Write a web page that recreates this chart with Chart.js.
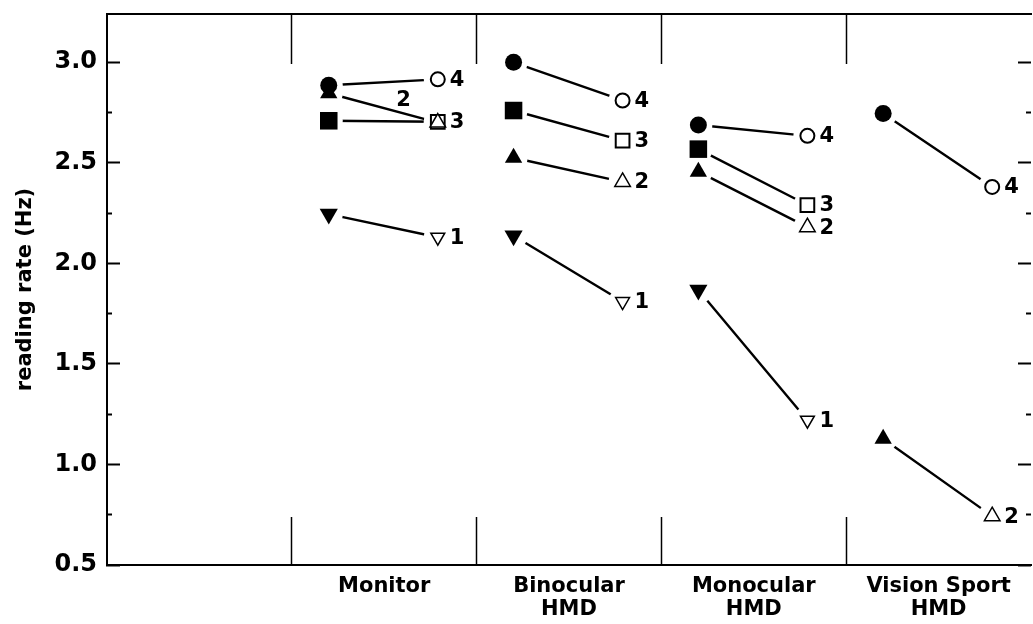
<!DOCTYPE html>
<html>
<head>
<meta charset="utf-8">
<script src="https://cdn.jsdelivr.net/npm/chart.js@4.4.0/dist/chart.umd.min.js"></script>
<style>
  html, body { margin: 0; padding: 0; background: #fff; overflow: hidden; }
  #wrap { width: 1033px; height: 624px; overflow: hidden; position: relative; background: #fff; }
  canvas { display: block; }
</style>
</head>
<body>
<div id="wrap"><canvas id="c" width="1045" height="624"></canvas></div>
<script>
// ---------------- data ----------------
const categories = [['Monitor'], ['Binocular', 'HMD'], ['Monocular', 'HMD'], ['Vision Sport', 'HMD']];
const seriesNames = ['1', '2', '3', '4'];

// reading rate (Hz): filled marker ("before") and open marker ("after") per category
const s1Before = [2.245, 2.137, 1.867, null];
const s1After  = [2.13,  1.81,  1.22,  null];
const s2Before = [2.846, 2.525, 2.456, 1.128];
const s2After  = [2.70,  2.405, 2.18,  0.743];
const s3Before = [2.709, 2.76,  2.568, null];
const s3After  = [2.704, 2.61,  2.29,  null];
const s4Before = [2.886, 3.00,  2.688, 2.745];
const s4After  = [2.915, 2.81,  2.634, 2.38];

const yTickValues = [0.5, 0.75, 1.0, 1.25, 1.5, 1.75, 2.0, 2.25, 2.5, 2.75, 3.0];
const yTickLabels = ['0.5', '', '1.0', '', '1.5', '', '2.0', '', '2.5', '', '3.0'];
const yMin = 0.5, yMax = 3.24;

// ---------------- styles / layout ----------------
const FONT = "'DejaVu Sans', 'Liberation Sans', sans-serif";
const BEFORE_OFFSET = 0.2;   // position of filled marker inside a category band
const AFTER_OFFSET = 0.79;   // position of open marker inside a category band
const markerStyles = [
  { style: 'triangle', rot: 180, filledR: 10.5, openR: 8,   openBW: 1.5 },
  { style: 'triangle', rot: 0,   filledR: 10,   openR: 9,   openBW: 1.5 },
  { style: 'rect',     rot: 0,   filledR: 12.4, openR: 9.7, openBW: 2 },
  { style: 'circle',   rot: 0,   filledR: 8.5,  openR: 7,   openBW: 2 }
];
// the "2" of series 2 in the Monitor group is written on its line
const midLabelFor = { series: 1, category: 0 };

const beforeSets = [s1Before, s2Before, s3Before, s4Before];
const afterSets = [s1After, s2After, s3After, s4After];

const bandStart = i => i + 1;
const datasets = [];

seriesNames.forEach((name, si) => {
  const b = beforeSets[si], a = afterSets[si];
  const linePts = [];
  const bPts = [], aPts = [];
  categories.forEach((c, ci) => {
    const bx = bandStart(ci) + BEFORE_OFFSET, ax = bandStart(ci) + AFTER_OFFSET;
    linePts.push({ x: bx, y: b[ci] }, { x: ax, y: a[ci] }, { x: bandStart(ci) + 0.95, y: null });
    bPts.push({ x: bx, y: b[ci] });
    aPts.push({ x: ax, y: a[ci] });
  });
  // connecting lines (bottom)
  datasets.push({
    role: 'line', label: name, data: linePts, showLine: true, spanGaps: false,
    borderColor: '#000', borderWidth: 2.4, pointRadius: 0, order: 30,
    xAxisID: 'x', yAxisID: 'y'
  });
  // white halos to open gaps between lines and markers
  datasets.push({
    role: 'halo', label: name, data: bPts.concat(aPts), showLine: false,
    pointStyle: 'circle', pointRadius: 14, pointBackgroundColor: '#fff',
    pointBorderWidth: 0, pointBorderColor: '#fff', order: 20,
    xAxisID: 'x', yAxisID: 'y'
  });
});
seriesNames.forEach((name, si) => {
  const b = beforeSets[si], a = afterSets[si], st = markerStyles[si];
  const bIdx = datasets.length;
  datasets.push({
    role: 'before', label: name,
    data: categories.map((c, ci) => ({ x: bandStart(ci) + BEFORE_OFFSET, y: b[ci] })),
    showLine: false, pointStyle: st.style, rotation: st.rot, pointRadius: st.filledR,
    pointBackgroundColor: '#000', pointBorderColor: '#000', pointBorderWidth: 0, order: 10,
    xAxisID: 'x', yAxisID: 'y'
  });
  datasets.push({
    role: 'after', label: name, pairIndex: bIdx, seriesIndex: si,
    data: categories.map((c, ci) => ({ x: bandStart(ci) + AFTER_OFFSET, y: a[ci] })),
    showLine: false, pointStyle: st.style, rotation: st.rot, pointRadius: st.openR,
    pointBackgroundColor: '#fff', pointBorderColor: '#000', pointBorderWidth: st.openBW, order: 10,
    xAxisID: 'x', yAxisID: 'y'
  });
});

// ---------------- series number labels ----------------
const seriesLabelPlugin = {
  id: 'seriesLabels',
  afterDatasetsDraw(chart) {
    const ctx = chart.ctx;
    ctx.save();
    ctx.font = "bold 21px " + FONT;
    ctx.fillStyle = '#000';
    ctx.textBaseline = 'middle';
    ctx.textAlign = 'left';
    chart.data.datasets.forEach((ds, di) => {
      if (ds.role !== 'after') return;
      const meta = chart.getDatasetMeta(di);
      const bMeta = chart.getDatasetMeta(ds.pairIndex);
      meta.data.forEach((pt, i) => {
        if (ds.data[i].y == null) return;
        if (ds.seriesIndex === midLabelFor.series && i === midLabelFor.category) {
          const bp = bMeta.data[i];
          ctx.fillText(ds.label, (pt.x + bp.x) / 2 + 13, (pt.y + bp.y) / 2 - 7);
        } else {
          ctx.fillText(ds.label, pt.x + 12, pt.y + 1);
        }
      });
    });
    ctx.restore();
  }
};

// ---------------- axes helpers ----------------
const isDivider = v => Math.abs(v - Math.round(v)) < 1e-6 && Math.round(v) >= 1 && Math.round(v) <= categories.length;
const isMajorY = v => yTickLabels[yTickValues.findIndex(t => Math.abs(t - v) < 1e-6)] !== '';
const xTicks = [];
for (let i = 0; i <= categories.length + 1; i++) {
  xTicks.push({ value: i });
  if (i <= categories.length) xTicks.push({ value: i + 0.5 });
}
const noPad = s => { s.paddingTop = 0; s.paddingBottom = 0; s.paddingLeft = 0; s.paddingRight = 0; };

new Chart(document.getElementById('c'), {
  type: 'scatter',
  data: { datasets },
  options: {
    responsive: false,
    animation: false,
    events: [],
    layout: { padding: 0 },
    plugins: { legend: { display: false }, tooltip: { enabled: false } },
    scales: {
      x: {
        type: 'linear', axis: 'x', position: 'bottom', min: 0, max: categories.length + 1,
        afterBuildTicks: s => { s.ticks = xTicks.map(t => ({ value: t.value })); },
        afterFit: s => { s.height = 59; noPad(s); },
        ticks: {
          autoSkip: false, maxRotation: 0, minRotation: 0, padding: 58, color: '#000',
          font: { family: FONT, size: 21, weight: 'bold', lineHeight: 1.1 },
          callback: v => {
            const k = v - 0.5;
            const r = Math.round(k);
            if (Math.abs(k - r) < 1e-6 && r >= 1 && r <= categories.length) return categories[r - 1];
            return '';
          }
        },
        grid: {
          drawOnChartArea: false, drawTicks: true, tickLength: -48, tickWidth: 1.5,
          tickColor: c => isDivider(c.tick.value) ? '#000' : 'rgba(0,0,0,0)'
        },
        border: { display: true, color: '#000', width: 2 }
      },
      xTop: {
        type: 'linear', axis: 'x', position: 'top', min: 0, max: categories.length + 1,
        afterBuildTicks: s => { s.ticks = xTicks.map(t => ({ value: t.value })); },
        afterFit: s => { s.height = 14; noPad(s); },
        ticks: { display: false, autoSkip: false },
        grid: {
          drawOnChartArea: false, drawTicks: true, tickLength: -50, tickWidth: 1.5,
          tickColor: c => isDivider(c.tick.value) ? '#000' : 'rgba(0,0,0,0)'
        },
        border: { display: true, color: '#000', width: 2 }
      },
      y: {
        type: 'linear', axis: 'y', position: 'left', min: yMin, max: yMax,
        afterBuildTicks: s => { s.ticks = yTickValues.map(v => ({ value: v })); },
        afterFit: s => { s.width = 107; noPad(s); },
        ticks: {
          autoSkip: false, padding: 23, color: '#000',
          font: { family: FONT, size: 24, weight: 'bold' },
          callback: v => { const i = yTickValues.findIndex(t => Math.abs(t - v) < 1e-6); return i >= 0 ? yTickLabels[i] : ''; }
        },
        grid: {
          drawOnChartArea: false, drawTicks: true, tickLength: -13, tickWidth: 2, tickColor: '#000',
          tickBorderDash: c => isMajorY(c.tick.value) ? [] : [5, 8],
          tickBorderDashOffset: c => isMajorY(c.tick.value) ? 0 : 5
        },
        border: { display: true, color: '#000', width: 2 },
        title: {
          display: true, text: 'reading rate (Hz)', color: '#000',
          font: { family: FONT, size: 21, weight: 'bold' },
          padding: { top: 13, bottom: 0 }
        }
      },
      yR: {
        type: 'linear', axis: 'y', position: 'right', min: yMin, max: yMax,
        afterBuildTicks: s => { s.ticks = yTickValues.map(v => ({ value: v })); },
        afterFit: s => { s.width = 10; noPad(s); },
        ticks: { display: false, autoSkip: false },
        grid: {
          drawOnChartArea: false, drawTicks: true, tickLength: -13, tickWidth: 2, tickColor: '#000',
          tickBorderDash: c => isMajorY(c.tick.value) ? [] : [5, 8],
          tickBorderDashOffset: 0
        },
        border: { display: false }
      }
    }
  },
  plugins: [seriesLabelPlugin]
});
</script>
</body>
</html>
